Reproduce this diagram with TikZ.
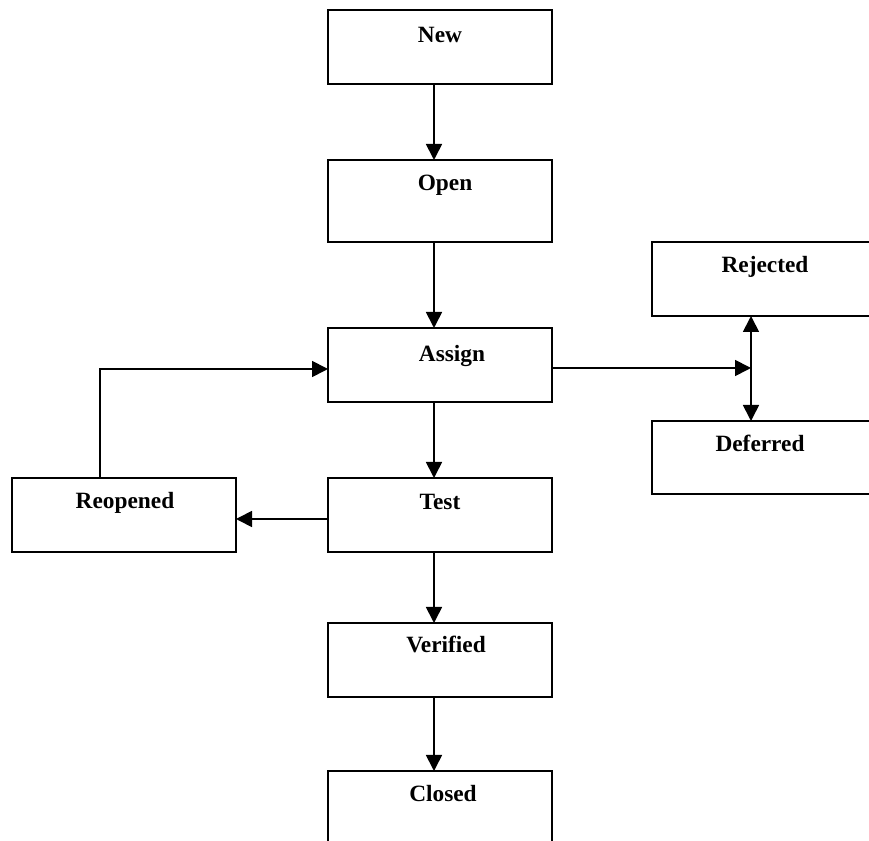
\documentclass[tikz,border=0pt]{standalone}
\usepackage{fontspec}
\setmainfont{Liberation Serif}
\usetikzlibrary{arrows.meta}
\begin{document}
\begin{tikzpicture}[x=0.75pt,y=-0.75pt,
  box/.style={draw=black,line width=1.3pt,fill=white,anchor=north west,inner sep=0pt,outer sep=0pt,minimum width=168pt,minimum height=55.5pt},
  lbl/.style={anchor=base,inner sep=0pt,font=\fontsize{17.5pt}{20pt}\selectfont\bfseries},
  conn/.style={line width=1.3pt,-{Triangle[length=12pt,width=12pt]}},
  conn2/.style={line width=1.3pt,{Triangle[length=12pt,width=12pt]}-{Triangle[length=12pt,width=12pt]}}]
\useasboundingbox (0,0) rectangle (869,841);
\clip (0,0) rectangle (869,841);
% boxes
\node[box] (new) at (328,10) {};
\node[box,minimum height=61.5pt] (open) at (328,160) {};
\node[box] (assign) at (328,328) {};
\node[box] (test) at (328,478) {};
\node[box] (verified) at (328,623) {};
\node[box] (closed) at (328,771) {};
\node[box] (reopened) at (12,478) {};
\node[box] (rejected) at (652,242) {};
\node[box,minimum height=54.75pt] (deferred) at (652,421) {};
% labels
\node[lbl] (tnew) at (440,43) {New};
\node[lbl] (topen) at (445,191) {Open};
\node[lbl] (tassign) at (452,362) {Assign};
\node[lbl] (ttest) at (440,510) {Test};
\node[lbl] (tverified) at (446,653) {Verified};
\node[lbl] (tclosed) at (443,802) {Closed};
\node[lbl] (treopened) at (125,509) {Reopened};
\node[lbl] (trejected) at (765,273) {Rejected};
\node[lbl] (tdeferred) at (760,452) {Deferred};
% connectors
\coordinate (x1) at (434,0);
\draw[conn] (new.south -| x1) -- (open.north -| x1);
\draw[conn] (open.south -| x1) -- (assign.north -| x1);
\draw[conn] (assign.south -| x1) -- (test.north -| x1);
\draw[conn] (test.south -| x1) -- (verified.north -| x1);
\draw[conn] (verified.south -| x1) -- (closed.north -| x1);
\coordinate (split) at (751,368);
\draw[conn] (assign.east |- split) -- (split);
\draw[conn2] (rejected.south -| split) -- (deferred.north -| split);
\coordinate (ty) at (0,519);
\draw[conn] (test.west |- ty) -- (reopened.east |- ty);
\coordinate (lx) at (100,369);
\draw[conn] (reopened.north -| lx) -- (lx) -- (assign.west |- lx);
\end{tikzpicture}
\end{document}
